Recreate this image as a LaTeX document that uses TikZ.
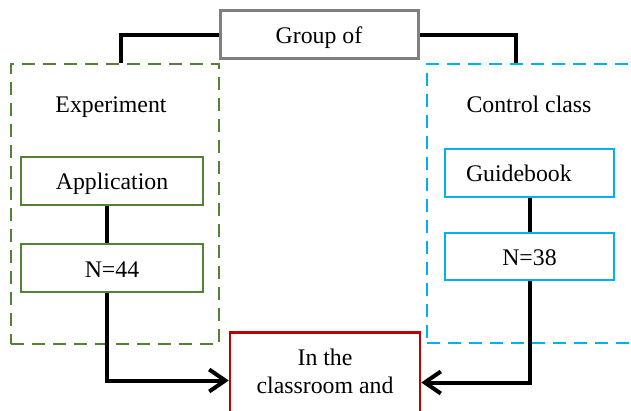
\documentclass[tikz,border=0pt]{standalone}
\usepackage{fontspec}
\setmainfont{Liberation Serif}
\usetikzlibrary{arrows.meta}
\definecolor{expgreen}{RGB}{84,130,53}
\definecolor{ctrlblue}{RGB}{0,176,240}
\definecolor{resred}{RGB}{192,0,0}
\definecolor{grpgray}{RGB}{128,128,128}
\tikzset{
	every node/.style={font=\fontsize{23.8}{28}\selectfont},
	grpbox/.style={draw=grpgray,line width=3pt,minimum width=198pt,minimum height=48pt,text height=18pt,text depth=0pt},
	expframe/.style={draw=expgreen,line width=2pt,dash pattern=on 13pt off 8pt,minimum width=208pt,minimum height=280pt},
	ctrlframe/.style={draw=ctrlblue,line width=2pt,dash pattern=on 13pt off 8pt,minimum width=213pt,minimum height=279pt},
	expbox/.style={draw=expgreen,line width=2.5pt,minimum width=182pt,minimum height=48pt,text height=18pt,text depth=0pt},
	ctrlbox/.style={draw=ctrlblue,line width=2.5pt,minimum width=169pt,minimum height=48pt,text height=18pt,text depth=0pt},
	link/.style={line width=4pt},
	tolink/.style={line width=4pt,-{Straight Barb[length=16pt,width=22pt]}}
}
\begin{document}
\begin{tikzpicture}[x=1pt,y=-1pt]
	\clip (0,0) rectangle (631,411);
	\node[expframe] at (115,204) (exp) {};
	\node[ctrlframe] at (533.5,203.5) (ctrl) {};
	\node at (111,107) (explabel) {Experiment};
	\node at (529,104) (ctrllabel) {Control class};
	\node[grpbox] at (319,35) (group) {Group of};
	\node[expbox] at (112,181) (app) {Application};
	\node[expbox] at (112,268) (n44) {N=44};
	\node[ctrlbox,text width=127pt,inner xsep=21pt,align=left] at (529.5,173) (guide) {Guidebook};
	\node[ctrlbox,minimum height=47pt] at (529.5,256.5) (n38) {N=38};
	\node[draw=resred,line width=2.5pt,minimum width=190pt,align=center,anchor=north,inner ysep=17pt,text depth=18pt] at (325,331) (result) {In the\\classroom and};
	% group to both classes
	\draw[link] (group.west) -| ([xshift=6pt]exp.north);
	\draw[link] (group.east) -| ([xshift=-17.5pt]ctrl.north);
	% inside the classes
	\draw[link] ([xshift=-5pt]app.south) -- ([xshift=-5pt]n44.north);
	\draw[link] (guide.south) -- (n38.north);
	% to the classroom
	\draw[tolink] ([xshift=-5pt]n44.south) |- (result.west);
	\draw[tolink] (n38.south) |- ([yshift=-2pt]result.east);
\end{tikzpicture}
\end{document}
